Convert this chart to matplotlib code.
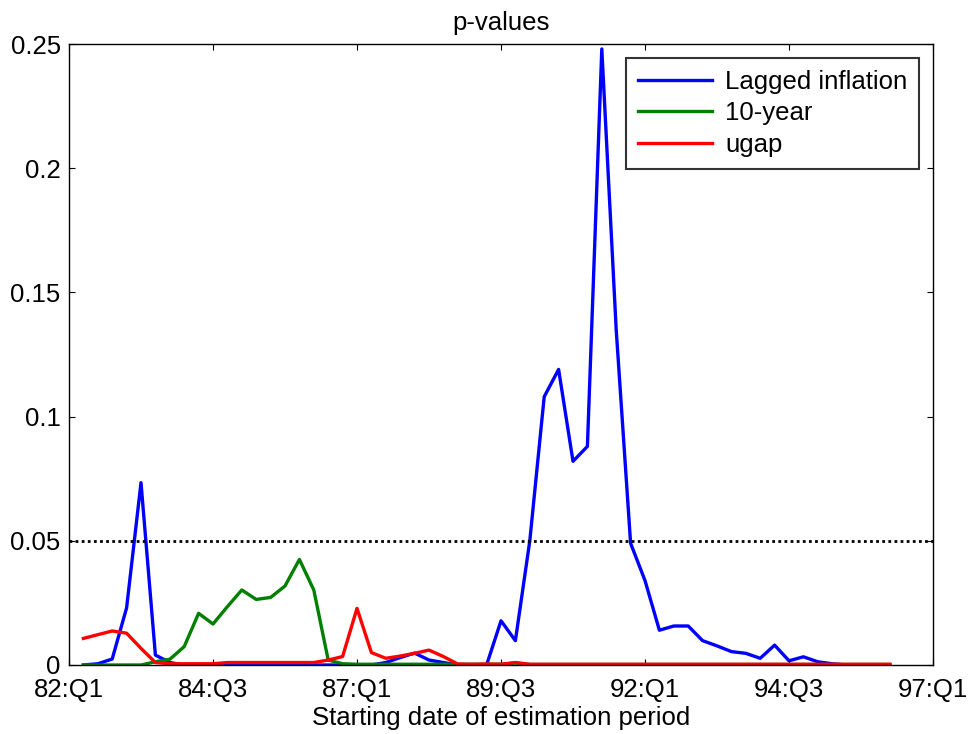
import matplotlib
matplotlib.use("Agg")
import matplotlib.pyplot as plt
from matplotlib import font_manager
import numpy as np

# ---- data (quarter index from 82:Q1 = 0) ----
quarters = list(range(1, 58))
lagged_inflation = [0, 0.0005, 0.0024, 0.023, 0.0734, 0.004, 0.001,
                    0, 0, 0, 0, 0, 0, 0, 0, 0, 0, 0, 0, 0, 0,
                    0.001, 0.003, 0.0048, 0.002, 0.001, 0, 0, 0,
                    0.0178, 0.0098, 0.050, 0.108, 0.119, 0.082, 0.088, 0.248,
                    0.135, 0.049, 0.034, 0.014, 0.0157, 0.0157, 0.0098, 0.0077,
                    0.0054, 0.0047, 0.0027, 0.008, 0.0017, 0.0033, 0.0013, 0.0005,
                    0, 0, 0, 0]
ten_year = [0, 0, 0, 0, 0, 0.0013, 0.0023, 0.0074, 0.0208, 0.0165, 0.0235,
            0.0302, 0.0264, 0.0272, 0.0318, 0.0425, 0.0302, 0.002, 0.0005,
            0.0003, 0.0003, 0.0003, 0.0003, 0.0003, 0.0003, 0.0003, 0.0003,
            0.0003, 0.0003, 0.0003, 0.0008] + [0.0002] * 26
ugap = [0.0107, 0.0122, 0.0137, 0.0128, 0.0067, 0.001, 0.0005, 0.0005,
        0.0005, 0.0005, 0.001, 0.001, 0.001, 0.001, 0.001, 0.001, 0.001,
        0.002, 0.0034, 0.0228, 0.005, 0.0027, 0.0036, 0.0047, 0.006, 0.0034,
        0.0004, 0.0003, 0.0004, 0.0003, 0.001] + [0.0003] * 26
series_names = ["Lagged inflation", "10-year", "ugap"]
threshold = 0.05
xtick_pos = [0, 10, 20, 30, 40, 50, 60]
xtick_labels = ["82:Q1", "84:Q3", "87:Q1", "89:Q3", "92:Q1", "94:Q3", "97:Q1"]
ytick_pos = [0, 0.05, 0.1, 0.15, 0.2, 0.25]
ytick_labels = ["0", "0.05", "0.1", "0.15", "0.2", "0.25"]

avail = {f.name for f in font_manager.fontManager.ttflist}
fam = "Liberation Sans Narrow" if "Liberation Sans Narrow" in avail else "Liberation Sans"
plt.rcParams["font.family"] = [fam, "DejaVu Sans"]
FS = 18.5

fig = plt.figure(figsize=(9.73, 7.34), dpi=100)
ax = fig.add_axes([69 / 973, 69 / 734, 864 / 973, 621 / 734])

colors = [(0, 0, 1), (0, 0.5, 0), (1, 0, 0)]
for vals, name, c in zip([lagged_inflation, ten_year, ugap], series_names, colors):
    ax.plot(quarters, vals, color=c, lw=2.4, label=name)
ax.axhline(threshold, color="black", lw=2.0, linestyle=(0, (1, 1.2)))

ax.set_xlim(0, 60)
ax.set_ylim(0, 0.25)
ax.set_xticks(xtick_pos)
ax.set_xticklabels(xtick_labels)
ax.set_yticks(ytick_pos)
ax.set_yticklabels(ytick_labels)
ax.tick_params(direction="in", length=4, width=0.8, top=True, right=True,
               labelsize=FS)
ax.tick_params(axis="x", pad=9)
ax.tick_params(axis="y", pad=6)
for s in ax.spines.values():
    s.set_linewidth(1.0)
ax.set_title("p-values", fontsize=FS, pad=10)
ax.set_xlabel("Starting date of estimation period", fontsize=FS, labelpad=3)

leg = ax.legend(loc="upper right", fontsize=FS, frameon=True, fancybox=False,
                edgecolor="black", borderaxespad=0.55, handlelength=2.9,
                labelspacing=0.3, borderpad=0.45, handletextpad=0.5)
leg.get_frame().set_linewidth(1.5)

fig.savefig("out.png", dpi=100)
